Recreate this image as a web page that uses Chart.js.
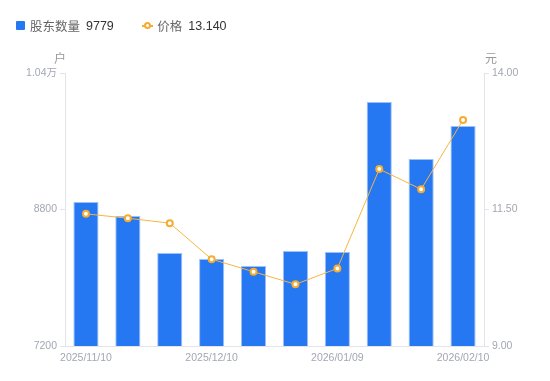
<!DOCTYPE html>
<html>
<head>
<meta charset="utf-8">
<script src="https://cdn.jsdelivr.net/npm/chart.js@4"></script>
<style>
  html, body { margin: 0; padding: 0; background: #fff; }
  #wrap { position: relative; width: 550px; height: 381px; font-family: "Liberation Sans", "Noto Sans CJK SC", sans-serif; }
  #chart { position: absolute; left: 0; top: 0; }
  .legend { position: absolute; top: 16px; left: 16px; font-size: 12.5px; color: #666; white-space: nowrap; }
  .legend span { display: inline-block; vertical-align: middle; }
  .sw-bar { width: 9px; height: 9px; background: #2577f2; border-radius: 1px; margin-right: 5px; }
  .val { color: #333; margin-left: 6px; }
  .sw-line { position: relative; width: 11px; height: 9px; margin-left: 25px; margin-right: 4px; }
  .sw-line:before { content: ""; position: absolute; left: 0; right: 0; top: 4px; height: 1.5px; background: #f5ac30; }
  .sw-line:after { content: ""; position: absolute; left: 2px; top: 1px; width: 3px; height: 3px; border: 2px solid #f5ac30; border-radius: 50%; background: #fff; }
  .unit { position: absolute; top: 49px; font-size: 12px; color: #999; font-family: "Noto Sans CJK SC", sans-serif; }
</style>
</head>
<body>
<div id="wrap">
  <canvas id="chart" width="550" height="381"></canvas>
  <div class="legend">
    <span class="sw-bar"></span><span>股东数量</span><span class="val">9779</span>
    <span class="sw-line"></span><span>价格</span><span class="val">13.140</span>
  </div>
  <div class="unit" style="left:54px">户</div>
  <div class="unit" style="left:485px">元</div>
</div>
<script>
// categories (every third one is labelled on the axis)
const dates = ['2025/11/10', '2025/11/20', '2025/11/28', '2025/12/10', '2025/12/19',
               '2025/12/31', '2026/01/09', '2026/01/20', '2026/01/30', '2026/02/10'];
const holders = [8888, 8724, 8290, 8220, 8138, 8314, 8302, 10060, 9392, 9779];
const prices = [11.42, 11.34, 11.25, 10.59, 10.36, 10.13, 10.42, 12.24, 11.87, 13.14];

const leftTicks = [7200, 8800, 10400];
const rightTicks = [9, 11.5, 14];
const shownLabels = [0, 3, 6, 9];

const tickFont = { family: "'Liberation Sans', 'Noto Sans CJK SC', sans-serif", size: 10.5 };
const tickColor = '#a3a7b3';
const axisColor = '#e3e4e8';

new Chart(document.getElementById('chart'), {
  data: {
    labels: dates,
    datasets: [
      {
        type: 'line',
        label: '价格',
        data: prices,
        yAxisID: 'y1',
        order: 0,
        borderColor: '#f7b540',
        borderWidth: 1,
        pointRadius: 3,
        pointBorderWidth: 2,
        pointBackgroundColor: '#ffffff',
        pointBorderColor: '#f5ac30',
        tension: 0
      },
      {
        type: 'bar',
        label: '股东数量',
        data: holders,
        yAxisID: 'y',
        order: 1,
        backgroundColor: '#2577f2',
        borderColor: '#9cc0fa',
        borderWidth: 1,
        categoryPercentage: 1,
        barPercentage: 0.6
      }
    ]
  },
  options: {
    responsive: false,
    animation: false,
    layout: { padding: { top: 73, left: 0, right: 0, bottom: 0 } },
    plugins: { legend: { display: false }, tooltip: { enabled: false } },
    scales: {
      x: {
        grid: { display: false, drawTicks: false },
        border: { display: true, color: axisColor },
        ticks: {
          autoSkip: false,
          maxRotation: 0,
          padding: 6,
          font: tickFont,
          color: tickColor,
          callback: (v, i) => shownLabels.includes(i) ? dates[i] : ''
        },
        afterFit: s => { s.height = 35; }
      },
      y: {
        position: 'left',
        min: 7200,
        max: 10400,
        afterBuildTicks: s => { s.ticks = leftTicks.map(v => ({ value: v })); },
        grid: { drawOnChartArea: false, tickLength: 5, color: axisColor },
        border: { color: axisColor },
        ticks: {
          padding: 3,
          font: tickFont,
          color: tickColor,
          callback: v => v >= 10000 ? (v / 10000).toFixed(2) + '万' : String(v)
        },
        afterFit: s => { s.width = 65; }
      },
      y1: {
        position: 'right',
        min: 9,
        max: 14,
        afterBuildTicks: s => { s.ticks = rightTicks.map(v => ({ value: v })); },
        grid: { drawOnChartArea: false, tickLength: 5, color: axisColor },
        border: { color: axisColor },
        ticks: {
          padding: 3,
          font: tickFont,
          color: tickColor,
          callback: v => v.toFixed(2)
        },
        afterFit: s => { s.width = 66; }
      }
    }
  }
});
</script>
</body>
</html>
